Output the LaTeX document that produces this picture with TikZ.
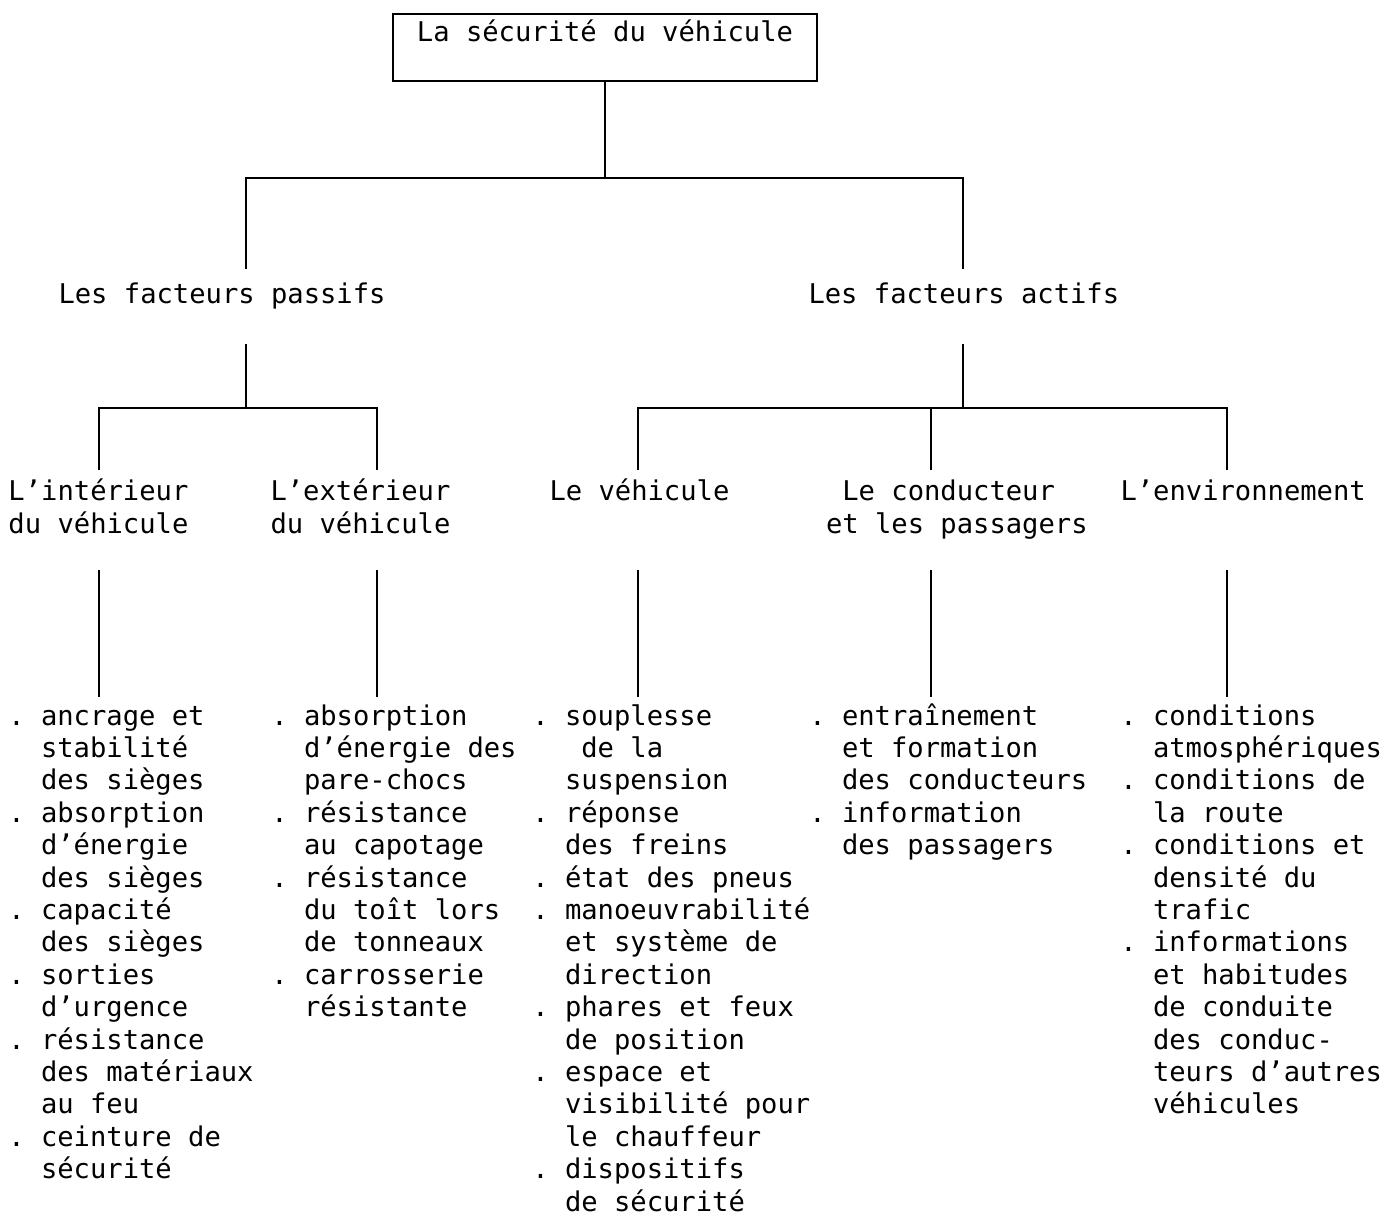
\documentclass[tikz,border=0pt]{standalone}
\usepackage{fontspec}
\setmonofont{DejaVu Sans Mono}
\usepackage{tikz}
\usetikzlibrary{calc,positioning}
\newcommand{\pnt}{.\ }
\newcommand{\ind}{\phantom{.\ }}
\frenchspacing

\begin{document}
\begin{tikzpicture}[x=0.5pt,y=-0.5pt,line width=1pt,
  every node/.style={font=\ttfamily\fontsize{13.58pt}{16.2pt}\selectfont},
  titre/.style={draw,minimum width=212pt,inner xsep=0pt,inner ysep=0pt,text height=13.5pt,text depth=20pt,anchor=north},
  facteur/.style={inner sep=0pt,text height=16.5pt,text depth=20pt,anchor=base west},
  partie/.style={align=left,inner xsep=0pt,inner ysep=3.65pt,anchor=north west}]
  \tikzstyle{liste} = [align=left,inner xsep=0pt,inner ysep=2.2pt,anchor=north west]
  \useasboundingbox (0,0) rectangle (1398,1215);

  \node (1_1) [titre] at (605,13) {La sécurité du véhicule};
  \node (1_2) [facteur] at (57.5,303) {Les facteurs passifs};
  \node (1_3) [facteur] at (807.5,303) {Les facteurs actifs};

  \node (1_4) [partie] at (7.5,470) {\strut L’intérieur\\du véhicule\strut};
  \node (1_5) [partie] at (269.5,470) {\strut L’extérieur\\du véhicule\strut};
  \node (1_6) [partie] at (548.5,470) {\strut Le véhicule};
  \node (1_7) [partie] at (825,470) {\strut\ Le conducteur\\et les passagers\strut};
  \node (1_8) [partie] at (1119.5,470) {\strut L’environnement};

  \node (1_9) [liste] at (7.3,697) {\strut\pnt ancrage et\\ \ind stabilité\\ \ind des sièges\\
    \pnt absorption\\ \ind d’énergie\\ \ind des sièges\\ \pnt capacité\\ \ind des sièges\\
    \pnt sorties\\ \ind d’urgence\\ \pnt résistance\\ \ind des matériaux\\ \ind au feu\\
    \pnt ceinture de\\ \ind sécurité};
  \node (1_10) [liste] at (270.3,697) {\strut\pnt absorption\\ \ind d’énergie des\\ \ind pare-chocs\\
    \pnt résistance\\ \ind au capotage\\ \pnt résistance\\ \ind du toît lors\\ \ind de tonneaux\\
    \pnt carrosserie\\ \ind résistante};
  \node (1_11) [liste] at (531.3,697) {\strut\pnt souplesse\\ \ind\ de la\\ \ind suspension\\
    \pnt réponse\\ \ind des freins\\ \pnt état des pneus\\ \pnt manoeuvrabilité\\
    \ind et système de\\ \ind direction\\ \pnt phares et feux\\ \ind de position\\
    \pnt espace et\\ \ind visibilité pour\\ \ind le chauffeur\\ \pnt dispositifs\\ \ind de sécurité};
  \node (1_12) [liste] at (808.3,697) {\strut\pnt entraînement\\ \ind et formation\\ \ind des conducteurs\\
    \pnt information\\ \ind des passagers};
  \node (1_13) [liste] at (1119.3,697) {\strut\pnt conditions\\ \ind atmosphériques\\ \pnt conditions de\\
    \ind la route\\ \pnt conditions et\\ \ind densité du\\ \ind trafic\\ \pnt informations\\
    \ind et habitudes\\ \ind de conduite\\ \ind des conduc-\\ \ind teurs d’autres\\ \ind véhicules};

  \coordinate (h1) at (605,178);
  \coordinate (h2) at (246,178);
  \coordinate (h3) at (963,178);
  \draw (1_1.south) -- (h1);
  \draw (h2 |- 1_2.north) -- (h2) -- (h3) -- (h3 |- 1_3.north);

  \coordinate (g1) at (99,408);
  \coordinate (g2) at (377,408);
  \coordinate (g3) at (638,408);
  \coordinate (g4) at (931,408);
  \coordinate (g5) at (1227,408);
  \draw (h2 |- 1_2.south) -- (h2 |- g1);
  \draw (h3 |- 1_3.south) -- (h3 |- g3);
  \draw (g1 |- 1_4.north) -- (g1) -- (g2) -- (g2 |- 1_5.north);
  \draw (g3 |- 1_6.north) -- (g3) -- (g5) -- (g5 |- 1_8.north);
  \draw (g4) -- (g4 |- 1_7.north);

  \foreach \a/\b [count=\i] in {99/1_9,377/1_10,638/1_11,931/1_12,1227/1_13}
    \draw (\a,570) coordinate (d\i) -- (d\i |- \b.north);
\end{tikzpicture}
\end{document}
